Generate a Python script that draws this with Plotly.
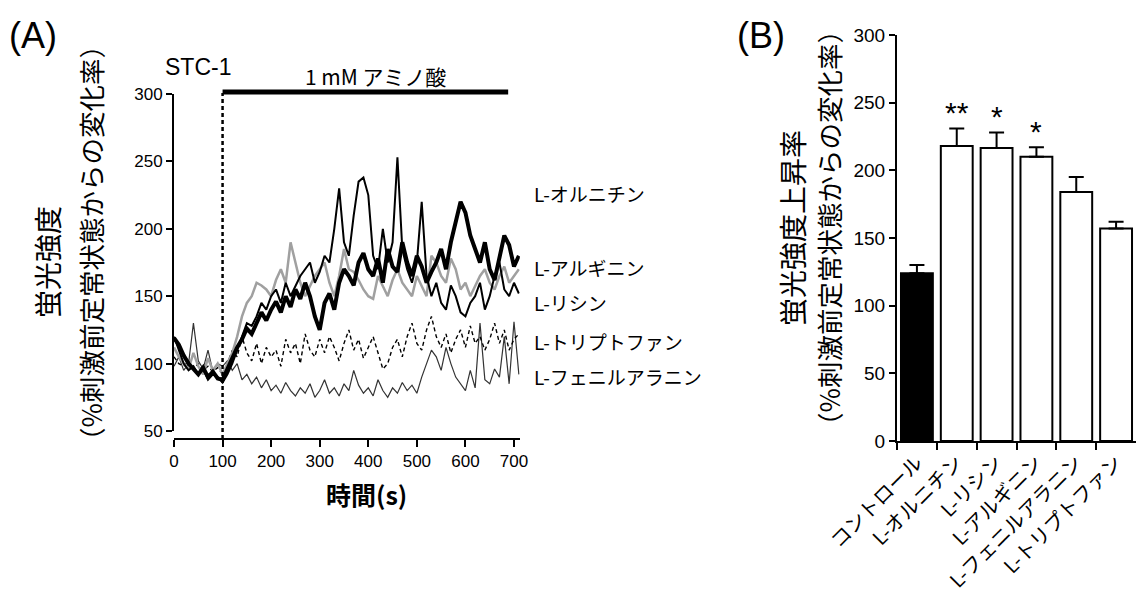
import plotly.graph_objects as go

W, H = 1138, 594
def px(x): return x / W
def py(y): return 1 - y / H

# ---------------- data: panel A (time course) ----------------
time_s = list(range(0, 720, 10))  # 0 .. 710 s

ornithine = [119,114,106,100,96,92,97,90,94,89,88,
             96,104,112,118,126,122,130,138,132,140,
             146,138,150,142,155,148,160,150,135,125,
             145,152,140,160,170,165,158,175,182,170,
             165,178,160,185,172,168,190,175,165,180,
             172,160,168,175,185,170,190,205,220,212,
             195,185,175,190,170,162,178,195,188,172,
             180]
arginine = [112,105,100,96,108,98,92,104,95,100,92,
            100,108,120,135,145,150,160,158,155,150,
            162,170,160,190,175,160,150,158,165,170,
            175,160,150,165,185,170,168,162,155,150,
            148,165,158,150,162,170,160,155,150,165,
            158,150,180,175,165,160,178,170,155,160,
            150,158,165,170,160,155,165,172,160,165,
            170]
lysine = [120,110,100,95,98,92,96,88,92,90,86,
          92,100,110,120,130,128,135,145,140,150,
          155,145,160,150,158,165,170,175,160,168,
          180,175,200,230,190,180,210,235,238,225,
          180,170,200,175,190,253,185,170,160,175,
          220,165,150,160,145,140,158,150,138,135,
          145,150,160,140,150,165,175,155,150,160,
          152]
tryptophan = [105,100,98,102,96,100,95,98,94,97,92,
              100,110,105,120,108,102,115,100,112,105,
              110,98,118,108,115,100,122,110,105,118,
              108,120,112,102,115,125,110,118,104,112,
              120,108,96,100,112,118,105,120,130,115,
              110,125,135,120,112,122,108,118,125,112,
              128,115,120,110,118,130,115,125,110,118,
              122]
phenylalanine = [98,105,95,100,130,102,96,110,94,100,98,
                 102,95,100,88,92,85,90,82,88,80,
                 84,78,86,80,76,82,78,85,75,80,
                 88,78,82,76,85,80,95,84,78,82,
                 76,88,80,75,82,78,86,80,84,78,
                 90,100,110,105,95,112,100,90,85,80,
                 95,82,130,88,85,96,90,120,85,131,
                 92]

a_xticks = [0, 100, 200, 300, 400, 500, 600, 700]
a_yticks = [50, 100, 150, 200, 250, 300]
stim_start, stim_end = 100, 688

series_labels = ["L-オルニチン", "L-アルギニン", "L-リシン", "L-トリプトファン", "L-フェニルアラニン"]

# ---------------- data: panel B (bars) ----------------
categories = ["コントロール", "L-オルニチン", "L-リシン", "L-アルギニン", "L-フェニルアラニン", "L-トリプトファン"]
bar_values = [124, 218, 216.5, 210, 184, 157]
bar_errors = [6, 13, 11.5, 7, 11, 5]
significance = ["", "**", "*", "*", "", ""]
b_yticks = [0, 50, 100, 150, 200, 250, 300]

LAT = "Liberation Sans, Arial, Noto Sans CJK JP, sans-serif"
JP = "Noto Sans CJK JP, Liberation Sans, sans-serif"

fig = go.Figure()

styles = [
    (phenylalanine, dict(color="#333333", width=1.2)),
    (tryptophan, dict(color="black", width=1.4, dash="4px,3px")),
    (arginine, dict(color="#a0a0a0", width=2.5)),
    (lysine, dict(color="black", width=2)),
    (ornithine, dict(color="black", width=4)),
]
for ys, ln in styles:
    fig.add_trace(go.Scatter(x=time_s, y=ys, mode="lines", line=ln,
                             xaxis="x", yaxis="y", hoverinfo="skip"))

fig.add_trace(go.Bar(
    x=categories, y=bar_values, xaxis="x2", yaxis="y2", width=0.8,
    marker=dict(color=["black"] + ["white"] * 5, line=dict(color="black", width=2)),
    error_y=dict(type="data", array=bar_errors, arrayminus=[0] * 6, symmetric=False,
                 thickness=2, width=7.5, color="black"),
))

axis_common = dict(showline=True, linecolor="black", linewidth=2, ticks="outside",
                   tickcolor="black", tickwidth=2, showgrid=False, zeroline=False,
                   automargin=False)

x_scale = 340 / 700.0
fig.update_layout(
    template="none",
    width=W, height=594, autosize=False,
    margin=dict(l=0, r=0, t=0, b=0, pad=0),
    paper_bgcolor="white", plot_bgcolor="white",
    showlegend=False,
    font=dict(family=LAT, color="black"),
    xaxis=dict(domain=[px(174), px(174 + 712 * x_scale)], range=[0, 712], anchor="free",
               position=py(439), tickvals=a_xticks, ticklen=7,
               tickfont=dict(size=17, family=LAT), **axis_common),
    yaxis=dict(domain=[py(431), py(94)], range=[50, 300], anchor="x", tickvals=a_yticks,
               ticklen=6, tickfont=dict(size=17, family=LAT), **axis_common),
    xaxis2=dict(domain=[px(897), px(1136)], range=[-0.5, 5.5], type="category", anchor="y2",
                tickson="boundaries", ticklen=7, tickangle=-45,
                tickfont=dict(size=20, family=JP), **axis_common),
    yaxis2=dict(domain=[py(441), py(35)], range=[0, 300], anchor="x2", tickvals=b_yticks,
                ticklen=6, tickfont=dict(size=19, family=LAT), **axis_common),
)

# stimulus markers
fig.add_shape(type="line", xref="x", yref="paper", x0=stim_start, x1=stim_start,
              y0=py(439), y1=py(93), line=dict(color="black", width=2.5, dash="4px,3px"))
fig.add_shape(type="line", xref="x", yref="paper", x0=stim_start, x1=stim_end,
              y0=py(92), y1=py(92), line=dict(color="black", width=5))

ann = []
def A(text, x, y, size, family=JP, xanchor="center", yanchor="middle", angle=0, xref="paper", yref="paper"):
    ann.append(dict(text=text, x=x, y=y, xref=xref, yref=yref, showarrow=False,
                    xanchor=xanchor, yanchor=yanchor, textangle=angle,
                    font=dict(size=size, family=family, color="black")))

A("(A)", px(7), py(35), 36, family=LAT, xanchor="left")
A("(B)", px(735), py(35), 36, family=LAT, xanchor="left")
A("STC-1", px(163), py(67), 23, family=LAT, xanchor="left")
A("1 mM アミノ酸", px(375), py(76), 21)
A("<b>時間(s)</b>", px(366), py(494), 25)

# y titles
A("蛍光強度", px(47), py(262), 28, angle=-90)
A("（%刺激前定常状態からの変化率）", px(90), py(243), 26.5, angle=-90)
A("蛍光強度上昇率", px(792), py(228), 28, angle=-90)
A("（%刺激前定常状態からの変化率）", px(828), py(228), 26.5, angle=-90)

# series labels
label_y = [193, 268, 302, 341, 376]
for lab, yy in zip(series_labels, label_y):
    A(lab, px(532), py(yy), 19, xanchor="left")

# significance marks
for cat, s, v, e in zip(categories, significance, bar_values, bar_errors):
    if s:
        A(s, cat, v + e - 2, 30, family=LAT, yanchor="bottom", xref="x2", yref="y2")

fig.update_layout(annotations=ann)
fig.write_html("out.html")
